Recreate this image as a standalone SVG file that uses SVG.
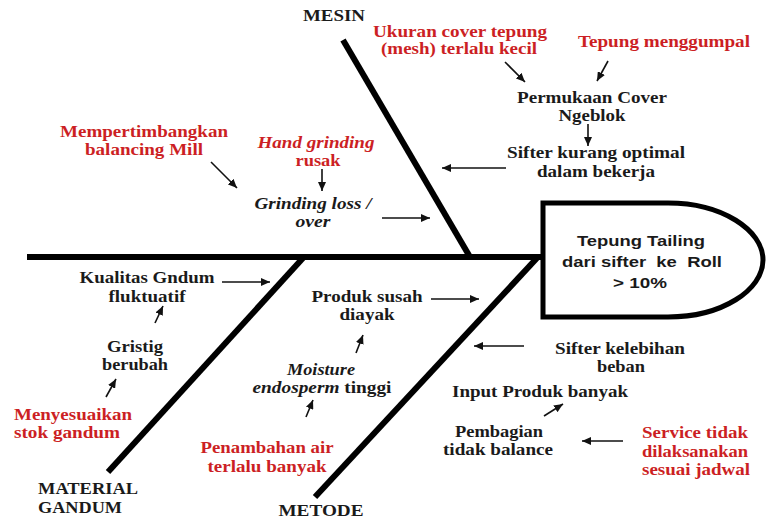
<svg xmlns="http://www.w3.org/2000/svg" width="770" height="519" viewBox="0 0 770 519">
<defs>
<marker id="ah" viewBox="0 0 10 10" refX="10" refY="5" markerWidth="9" markerHeight="8" markerUnits="userSpaceOnUse" orient="auto" preserveAspectRatio="none">
<path d="M0,0 L10,5 L0,10 z" fill="#111"/>
</marker>
<style>
.t{font-family:"Liberation Serif","Times New Roman",serif;font-weight:bold;font-size:16px;fill:#1a1a1a;text-anchor:middle}
.r{fill:#cc1f24}
.i{font-style:italic}
.s{text-anchor:start}
.h{font-family:"Liberation Sans",Arial,sans-serif;font-weight:bold;font-size:15px;fill:#1a1a1a;text-anchor:middle}
.bone{stroke:#000;stroke-width:6;fill:none;stroke-linecap:butt}
.ar{stroke:#111;stroke-width:1.6;fill:none;marker-end:url(#ah)}
</style>
</defs>
<rect width="770" height="519" fill="#fff"/>

<g id="skeleton">
<line class="bone" x1="27" y1="257" x2="543" y2="257"/>
<line class="bone" x1="343" y1="40" x2="470" y2="257"/>
<line class="bone" x1="108" y1="472" x2="303" y2="258"/>
<line class="bone" x1="315" y1="497" x2="537" y2="258"/>
</g>

<g id="head">
<path d="M543,203 H668 C722,203 763,230 763,260 C763,290 722,317 668,317 H543 Z" fill="#fff" stroke="#000" stroke-width="5"/>
<text class="h" x="641" y="246" textLength="128" lengthAdjust="spacingAndGlyphs">Tepung Tailing</text>
<text class="h" x="642" y="267" textLength="160" lengthAdjust="spacingAndGlyphs" xml:space="preserve">dari sifter  ke  Roll</text>
<text class="h" x="640" y="288" textLength="54" lengthAdjust="spacingAndGlyphs">&gt; 10%</text>
</g>

<g id="labels">
<text class="t" x="334" y="21" textLength="62" lengthAdjust="spacingAndGlyphs">MESIN</text>
<text class="t s" x="38" y="494" textLength="100" lengthAdjust="spacingAndGlyphs">MATERIAL</text>
<text class="t s" x="38" y="513" textLength="84" lengthAdjust="spacingAndGlyphs">GANDUM</text>
<text class="t" x="321" y="516" textLength="85" lengthAdjust="spacingAndGlyphs">METODE</text>
</g>

<g id="node-ukuran">
<text class="t r" x="460" y="37" textLength="174" lengthAdjust="spacingAndGlyphs">Ukuran cover tepung</text>
<text class="t r" x="459" y="54" textLength="156" lengthAdjust="spacingAndGlyphs">(mesh) terlalu kecil</text>
</g>
<g id="node-menggumpal">
<text class="t r" x="664" y="47" textLength="172" lengthAdjust="spacingAndGlyphs">Tepung menggumpal</text>
</g>
<g id="node-permukaan">
<text class="t" x="592" y="103" textLength="150" lengthAdjust="spacingAndGlyphs">Permukaan Cover</text>
<text class="t" x="592" y="121" textLength="67" lengthAdjust="spacingAndGlyphs">Ngeblok</text>
</g>
<g id="node-sifter-kurang">
<text class="t" x="596" y="158" textLength="178" lengthAdjust="spacingAndGlyphs">Sifter kurang optimal</text>
<text class="t" x="596" y="177" textLength="118" lengthAdjust="spacingAndGlyphs">dalam bekerja</text>
</g>
<g id="node-mempertimbangkan">
<text class="t r" x="144" y="137" textLength="168" lengthAdjust="spacingAndGlyphs">Mempertimbangkan</text>
<text class="t r" x="144" y="155" textLength="118" lengthAdjust="spacingAndGlyphs">balancing Mill</text>
</g>
<g id="node-hand">
<text class="t r i" x="316" y="148" textLength="117" lengthAdjust="spacingAndGlyphs">Hand grinding</text>
<text class="t r" x="318" y="166" textLength="45" lengthAdjust="spacingAndGlyphs">rusak</text>
</g>
<g id="node-grinding">
<text class="t i" x="313" y="209" textLength="117" lengthAdjust="spacingAndGlyphs">Grinding loss /</text>
<text class="t i" x="313" y="227" textLength="35" lengthAdjust="spacingAndGlyphs">over</text>
</g>
<g id="node-kualitas">
<text class="t" x="147" y="283" textLength="135" lengthAdjust="spacingAndGlyphs">Kualitas Gndum</text>
<text class="t" x="147" y="302" textLength="77" lengthAdjust="spacingAndGlyphs">fluktuatif</text>
</g>
<g id="node-gristig">
<text class="t" x="135" y="352" textLength="56" lengthAdjust="spacingAndGlyphs">Gristig</text>
<text class="t" x="135" y="370" textLength="66" lengthAdjust="spacingAndGlyphs">berubah</text>
</g>
<g id="node-menyesuaikan">
<text class="t r s" x="14" y="420" textLength="118" lengthAdjust="spacingAndGlyphs">Menyesuaikan</text>
<text class="t r s" x="14" y="438" textLength="106" lengthAdjust="spacingAndGlyphs">stok gandum</text>
</g>
<g id="node-produk">
<text class="t" x="367" y="302" textLength="111" lengthAdjust="spacingAndGlyphs">Produk susah</text>
<text class="t" x="367" y="320" textLength="55" lengthAdjust="spacingAndGlyphs">diayak</text>
</g>
<g id="node-moisture">
<text class="t i" x="321" y="375" textLength="68" lengthAdjust="spacingAndGlyphs">Moisture</text>
<text class="t" x="322" y="393" textLength="139" lengthAdjust="spacingAndGlyphs"><tspan class="i">endosperm</tspan> tinggi</text>
</g>
<g id="node-penambahan">
<text class="t r" x="267" y="453" textLength="133" lengthAdjust="spacingAndGlyphs">Penambahan air</text>
<text class="t r" x="267" y="472" textLength="119" lengthAdjust="spacingAndGlyphs">terlalu banyak</text>
</g>
<g id="node-sifter-kelebihan">
<text class="t" x="620" y="354" textLength="130" lengthAdjust="spacingAndGlyphs">Sifter kelebihan</text>
<text class="t" x="621" y="372" textLength="48" lengthAdjust="spacingAndGlyphs">beban</text>
</g>
<g id="node-input">
<text class="t" x="540" y="397" textLength="176" lengthAdjust="spacingAndGlyphs">Input Produk banyak</text>
</g>
<g id="node-pembagian">
<text class="t" x="499" y="437" textLength="88" lengthAdjust="spacingAndGlyphs">Pembagian</text>
<text class="t" x="498" y="455" textLength="110" lengthAdjust="spacingAndGlyphs">tidak balance</text>
</g>
<g id="node-service">
<text class="t r" x="695" y="438" textLength="106" lengthAdjust="spacingAndGlyphs">Service tidak</text>
<text class="t r" x="695" y="457" textLength="106" lengthAdjust="spacingAndGlyphs">dilaksanakan</text>
<text class="t r" x="696" y="475" textLength="108" lengthAdjust="spacingAndGlyphs">sesuai jadwal</text>
</g>

<g id="connectors">
<line class="ar" x1="505" y1="62" x2="525" y2="82"/>
<line class="ar" x1="608" y1="61" x2="597" y2="81"/>
<line class="ar" x1="588" y1="124" x2="588" y2="146"/>
<line class="ar" x1="506" y1="168" x2="442" y2="168"/>
<line class="ar" x1="382" y1="218" x2="430" y2="218"/>
<line class="ar" x1="211" y1="162" x2="237" y2="188"/>
<line class="ar" x1="322" y1="169" x2="322" y2="191"/>
<line class="ar" x1="222" y1="282" x2="270" y2="282"/>
<line class="ar" x1="155" y1="323" x2="163" y2="306"/>
<line class="ar" x1="106" y1="397" x2="116" y2="379"/>
<line class="ar" x1="431" y1="299" x2="479" y2="299"/>
<line class="ar" x1="356" y1="353" x2="363" y2="335"/>
<line class="ar" x1="306" y1="417" x2="313" y2="400"/>
<line class="ar" x1="524" y1="346" x2="474" y2="346"/>
<line class="ar" x1="544" y1="416" x2="563" y2="404"/>
<line class="ar" x1="623" y1="441" x2="582" y2="441"/>
</g>
</svg>
